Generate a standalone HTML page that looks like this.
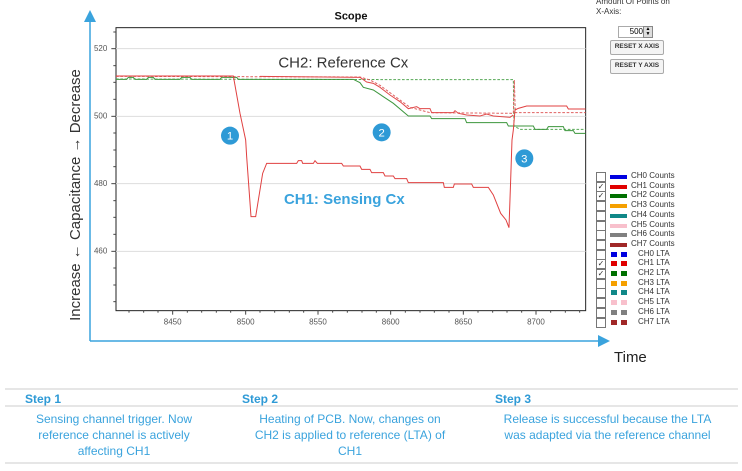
<!DOCTYPE html>
<html><head><meta charset="utf-8"><style>
body{margin:0;width:742px;height:471px;background:#fff;overflow:hidden;position:relative;font-family:"Liberation Sans",sans-serif}
.a{position:absolute;white-space:nowrap}
.btn{position:absolute;border:1px solid #aaa;background:#f4f4f4;font-size:6.5px;font-weight:bold;color:#333;text-align:center;line-height:12px;border-radius:2px}
.lg{position:absolute;left:596px;width:140px;white-space:nowrap;font-size:8px;color:#333;height:10px}
.lg .cb{position:absolute;left:0;top:0;width:8px;height:8px;border:1px solid #777;background:#fff;font-size:8px;line-height:8px;text-align:center}
.lg .sw{position:absolute;left:14px;top:3px;width:17px;height:4px}
.lg .d1,.lg .d2{position:absolute;top:2px;width:6px;height:5px}
.lg .d1{left:15px}.lg .d2{left:25px}
.lg .t{position:absolute;left:35px;top:-1px;white-space:nowrap}
.step{position:absolute;top:392px;font-size:12px;font-weight:bold;color:#2e9ad6}
.desc{position:absolute;top:411px;font-size:12px;color:#3aa3dd;text-align:center;line-height:16px}
</style></head><body>
<svg width="742" height="471" style="position:absolute;left:0;top:0">
<defs><marker id="ar" markerWidth="8" markerHeight="8" refX="4" refY="4" orient="auto"><path d="M0,0 L8,4 L0,8z" fill="#3aa3dd"/></marker></defs>
<line x1="90" y1="341" x2="90" y2="16" stroke="#3aa3dd" stroke-width="1.5" marker-end="url(#ar)"/>
<line x1="90" y1="341" x2="604" y2="341" stroke="#3aa3dd" stroke-width="1.5" marker-end="url(#ar)"/>
<g transform="translate(80,0) scale(0.33333)">
<rect x="108" y="83" width="1409" height="849" fill="#fff" stroke="#222" stroke-width="3"/>
<g stroke="#ddd" stroke-width="3">
<line x1="108" y1="146" x2="1517" y2="146"/><line x1="108" y1="349" x2="1517" y2="349"/>
<line x1="108" y1="551" x2="1517" y2="551"/><line x1="108" y1="754" x2="1517" y2="754"/></g>
<g stroke="#444" stroke-width="3">
<line x1="94" y1="146" x2="108" y2="146"/><line x1="94" y1="349" x2="108" y2="349"/><line x1="94" y1="551" x2="108" y2="551"/><line x1="94" y1="754" x2="108" y2="754"/>
<line x1="100" y1="96" x2="108" y2="96"/><line x1="100" y1="197" x2="108" y2="197"/><line x1="100" y1="247" x2="108" y2="247"/><line x1="100" y1="298" x2="108" y2="298"/><line x1="100" y1="399" x2="108" y2="399"/><line x1="100" y1="450" x2="108" y2="450"/><line x1="100" y1="500" x2="108" y2="500"/><line x1="100" y1="602" x2="108" y2="602"/><line x1="100" y1="652" x2="108" y2="652"/><line x1="100" y1="703" x2="108" y2="703"/><line x1="100" y1="804" x2="108" y2="804"/><line x1="100" y1="855" x2="108" y2="855"/><line x1="100" y1="905" x2="108" y2="905"/>
</g>
<g stroke="#444" stroke-width="3">
<line x1="147" y1="932" x2="147" y2="938"/><line x1="191" y1="932" x2="191" y2="938"/><line x1="234" y1="932" x2="234" y2="938"/><line x1="278" y1="932" x2="278" y2="944"/><line x1="322" y1="932" x2="322" y2="938"/><line x1="365" y1="932" x2="365" y2="938"/><line x1="409" y1="932" x2="409" y2="938"/><line x1="452" y1="932" x2="452" y2="938"/><line x1="497" y1="932" x2="497" y2="944"/><line x1="540" y1="932" x2="540" y2="938"/><line x1="584" y1="932" x2="584" y2="938"/><line x1="628" y1="932" x2="628" y2="938"/><line x1="671" y1="932" x2="671" y2="938"/><line x1="714" y1="932" x2="714" y2="944"/><line x1="758" y1="932" x2="758" y2="938"/><line x1="802" y1="932" x2="802" y2="938"/><line x1="846" y1="932" x2="846" y2="938"/><line x1="889" y1="932" x2="889" y2="938"/><line x1="932" y1="932" x2="932" y2="944"/><line x1="976" y1="932" x2="976" y2="938"/><line x1="1020" y1="932" x2="1020" y2="938"/><line x1="1063" y1="932" x2="1063" y2="938"/><line x1="1107" y1="932" x2="1107" y2="938"/><line x1="1150" y1="932" x2="1150" y2="944"/><line x1="1194" y1="932" x2="1194" y2="938"/><line x1="1238" y1="932" x2="1238" y2="938"/><line x1="1281" y1="932" x2="1281" y2="938"/><line x1="1325" y1="932" x2="1325" y2="938"/><line x1="1368" y1="932" x2="1368" y2="944"/><line x1="1412" y1="932" x2="1412" y2="938"/><line x1="1456" y1="932" x2="1456" y2="938"/><line x1="1499" y1="932" x2="1499" y2="938"/>
</g>
<g font-size="24" fill="#555" font-family="Liberation Sans">
<text x="42" y="153">520</text><text x="42" y="356">500</text><text x="42" y="558">480</text><text x="42" y="761">460</text>
<text x="278" y="973" text-anchor="middle">8450</text><text x="497" y="973" text-anchor="middle">8500</text><text x="714" y="973" text-anchor="middle">8550</text><text x="932" y="973" text-anchor="middle">8600</text><text x="1150" y="973" text-anchor="middle">8650</text><text x="1368" y="973" text-anchor="middle">8700</text>
</g>
<text x="813" y="58" font-size="33" font-weight="bold" text-anchor="middle" fill="#111" font-family="Liberation Sans">Scope</text>
<g fill="none" stroke-width="3">
<polyline stroke="#55a855" stroke-dasharray="8,5" points="108,237 1040,239 1300,239 1302,378 1320,388 1517,388"/>
<polyline stroke="#3d963d" points="108,238 140,238 145,232 160,232 165,238 200,238 205,232 220,232 225,238 300,238 305,232 330,232 335,238 420,238 425,232 470,232 475,238 820,238 840,248 850,262 880,270 910,290 940,310 985,348 1050,348 1055,356 1155,356 1160,368 1280,368 1285,378 1360,378 1365,388 1400,388 1405,380 1450,380 1455,392 1480,392 1485,400 1517,400"/>
<polyline stroke="#e06060" stroke-dasharray="8,5" points="108,229 840,231 870,240 900,256 960,300 990,322 1050,338 1300,340 1303,240 1306,338 1517,338"/>
<polyline stroke="#e04848" points="540,229 840,232 860,246 880,250 900,262 930,285 960,305 985,326 1010,320 1020,326 1050,326 1055,338 1120,338 1125,332 1135,340 1160,345 1200,348 1220,342 1240,348 1290,352 1300,345"/>
<polyline stroke="#e04040" points="108,228 460,228 480,340 497,420 500,470 513,650 527,650 548,520 560,490 650,490 655,482 665,482 668,490 700,490 705,482 712,490 785,490 790,498 840,498 845,508 870,508 875,518 910,518 915,528 940,528 945,536 980,536 985,548 1090,548 1093,562 1120,562 1123,552 1175,552 1180,562 1225,562 1240,585 1262,640 1278,660 1287,683 1292,540 1296,420 1300,390 1305,330 1315,325 1340,318 1460,318 1465,327 1517,327"/>
</g>
<g fill="#2e9ad6"><circle cx="450" cy="407" r="27"/><circle cx="905" cy="397" r="27"/><circle cx="1333" cy="475" r="27"/></g>
<g fill="#fff" font-size="34" text-anchor="middle" font-family="Liberation Sans"><text x="450" y="419">1</text><text x="905" y="409">2</text><text x="1333" y="487">3</text></g>
<text x="790" y="202" font-size="45" text-anchor="middle" fill="#333" font-family="Liberation Sans">CH2: Reference Cx</text>
<text x="793" y="612" font-size="45" font-weight="bold" text-anchor="middle" fill="#3aa3dd" font-family="Liberation Sans">CH1: Sensing Cx</text>
</g>
<text transform="translate(80,195) rotate(-90)" font-size="15" text-anchor="middle" fill="#333" font-family="Liberation Sans">Increase ←  Capacitance  → Decrease</text>
<text x="614" y="362" font-size="15" fill="#222" font-family="Liberation Sans">Time</text>
<line x1="5" y1="389" x2="738" y2="389" stroke="#ccc"/>
<line x1="5" y1="406" x2="738" y2="406" stroke="#ccc"/>
<line x1="5" y1="463" x2="738" y2="463" stroke="#ccc"/>
</svg>
<div class="a" style="left:596px;top:-3px;font-size:8px;color:#333;line-height:10px">Amount Of Points on<br>X-Axis:</div>
<div class="a" style="left:618px;top:26px;width:24px;height:10px;border:1px solid #aaa;font-size:8px;text-align:right;line-height:10px;padding-right:1px">500</div>
<div class="a" style="left:643px;top:26px;width:8px;height:10px;border:1px solid #888;background:#ddd;font-size:5px;line-height:5px;text-align:center">▲<br>▼</div>
<div class="btn" style="left:610px;top:40px;width:52px;height:13px">RESET X AXIS</div>
<div class="btn" style="left:610px;top:59px;width:52px;height:13px">RESET Y AXIS</div>
<div class="lg" style="top:172px"><div class="cb"></div><div class="sw" style="background:#0000e0"></div><div class="t">CH0 Counts</div></div>
<div class="lg" style="top:181.7px"><div class="cb">✓</div><div class="sw" style="background:#e00000"></div><div class="t">CH1 Counts</div></div>
<div class="lg" style="top:191.4px"><div class="cb">✓</div><div class="sw" style="background:#007000"></div><div class="t">CH2 Counts</div></div>
<div class="lg" style="top:201.1px"><div class="cb"></div><div class="sw" style="background:#f5a000"></div><div class="t">CH3 Counts</div></div>
<div class="lg" style="top:210.8px"><div class="cb"></div><div class="sw" style="background:#108888"></div><div class="t">CH4 Counts</div></div>
<div class="lg" style="top:220.5px"><div class="cb"></div><div class="sw" style="background:#f8c0cc"></div><div class="t">CH5 Counts</div></div>
<div class="lg" style="top:230.2px"><div class="cb"></div><div class="sw" style="background:#808080"></div><div class="t">CH6 Counts</div></div>
<div class="lg" style="top:239.9px"><div class="cb"></div><div class="sw" style="background:#a02828"></div><div class="t">CH7 Counts</div></div>
<div class="lg" style="top:249.6px"><div class="cb"></div><div class="d1" style="background:#0000e0"></div><div class="d2" style="background:#0000e0"></div><div class="t" style="left:42px">CH0 LTA</div></div>
<div class="lg" style="top:259.3px"><div class="cb">✓</div><div class="d1" style="background:#e00000"></div><div class="d2" style="background:#e00000"></div><div class="t" style="left:42px">CH1 LTA</div></div>
<div class="lg" style="top:269px"><div class="cb">✓</div><div class="d1" style="background:#007000"></div><div class="d2" style="background:#007000"></div><div class="t" style="left:42px">CH2 LTA</div></div>
<div class="lg" style="top:278.7px"><div class="cb"></div><div class="d1" style="background:#f5a000"></div><div class="d2" style="background:#f5a000"></div><div class="t" style="left:42px">CH3 LTA</div></div>
<div class="lg" style="top:288.4px"><div class="cb"></div><div class="d1" style="background:#108888"></div><div class="d2" style="background:#108888"></div><div class="t" style="left:42px">CH4 LTA</div></div>
<div class="lg" style="top:298.1px"><div class="cb"></div><div class="d1" style="background:#f8c0cc"></div><div class="d2" style="background:#f8c0cc"></div><div class="t" style="left:42px">CH5 LTA</div></div>
<div class="lg" style="top:307.8px"><div class="cb"></div><div class="d1" style="background:#808080"></div><div class="d2" style="background:#808080"></div><div class="t" style="left:42px">CH6 LTA</div></div>
<div class="lg" style="top:317.5px"><div class="cb"></div><div class="d1" style="background:#a02828"></div><div class="d2" style="background:#a02828"></div><div class="t" style="left:42px">CH7 LTA</div></div>
<div class="step" style="left:25px">Step 1</div>
<div class="step" style="left:242px">Step 2</div>
<div class="step" style="left:495px">Step 3</div>
<div class="desc" style="left:4px;width:220px">Sensing channel trigger. Now<br>reference channel is actively<br>affecting CH1</div>
<div class="desc" style="left:235px;width:230px">Heating of PCB. Now, changes on<br>CH2 is applied to reference (LTA) of<br>CH1</div>
<div class="desc" style="left:480px;width:255px">Release is successful because the LTA<br>was adapted via the reference channel</div>
</body></html>
